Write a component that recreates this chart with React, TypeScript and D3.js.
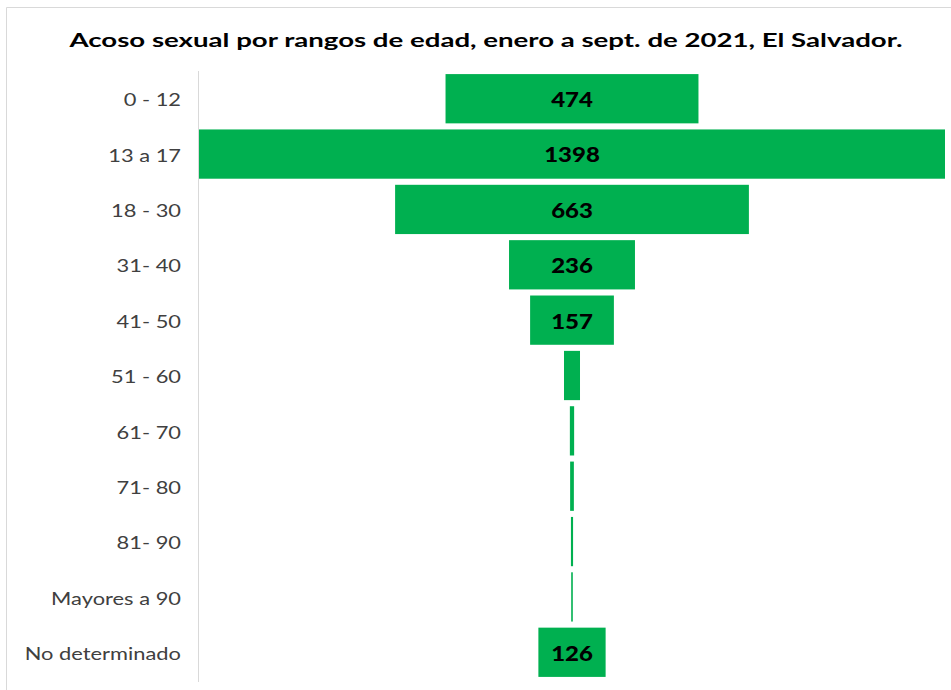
import React from "react";
import * as d3 from "d3";

const categories = [
  "0 - 12",
  "13 a 17",
  "18 - 30",
  "31- 40",
  "41- 50",
  "51 - 60",
  "61- 70",
  "71- 80",
  "81- 90",
  "Mayores a 90",
  "No determinado",
];
const values = [474, 1398, 663, 236, 157, 30, 8, 7, 4, 3, 126];
const title = "Acoso sexual por rangos de edad, enero a sept. de 2021, El Salvador.";

const W = 951;
const H = 690;
const FONT = "Lato, 'Open Sans', sans-serif";
const SX = 1.25; // horizontal stretch of the source image

export default function App() {
  const maxV = d3.max(values) as number;
  const x = d3.scaleLinear().domain([-maxV / 2, maxV / 2]).range([199, 945]);
  const y = d3.scaleBand<string>().domain(categories).range([68, 683]).padding(0.11);

  return (
    <svg
      width={W}
      height={H}
      style={{ position: "absolute", left: 0, top: 0, background: "#fff" }}
    >
      {/* chart area border (left + top only visible) */}
      <line x1={6.5} y1={7.5} x2={W} y2={7.5} stroke="#d9d9d9" />
      <line x1={6.5} y1={7.5} x2={6.5} y2={H} stroke="#d9d9d9" />

      <text
        x={486}
        y={47}
        textAnchor="middle"
        fontFamily={FONT}
        fontWeight="bold"
        fontSize={19}
        fill="#000"
        textLength={833}
        lengthAdjust="spacingAndGlyphs"
      >
        {title}
      </text>

      {/* bars */}
      {categories.map((c, i) => (
        <rect
          key={c}
          x={x(-values[i] / 2)}
          y={y(c)}
          width={x(values[i] / 2) - x(-values[i] / 2)}
          height={y.bandwidth()}
          fill="#00B050"
        />
      ))}

      {/* vertical axis */}
      <line x1={198.5} y1={71} x2={198.5} y2={682} stroke="#d9d9d9" />

      {/* category labels */}
      {categories.map((c) => (
        <text
          key={c}
          transform={`translate(181,${(y(c) as number) + y.bandwidth() / 2}) scale(${SX},1)`}
          dy="0.44em"
          textAnchor="end"
          fontFamily={FONT}
          fontSize={17.5}
          fill="#404040"
        >
          {c}
        </text>
      ))}

      {/* value labels (only on bars wide enough) */}
      {categories.map((c, i) =>
        values[i] >= 100 ? (
          <text
            key={c}
            transform={`translate(${x(0)},${(y(c) as number) + y.bandwidth() / 2}) scale(1.2,1)`}
            dy="0.42em"
            textAnchor="middle"
            fontFamily={FONT}
            fontWeight="900"
            fontSize={20}
            fill="#000"
          >
            {values[i]}
          </text>
        ) : null
      )}
    </svg>
  );
}
